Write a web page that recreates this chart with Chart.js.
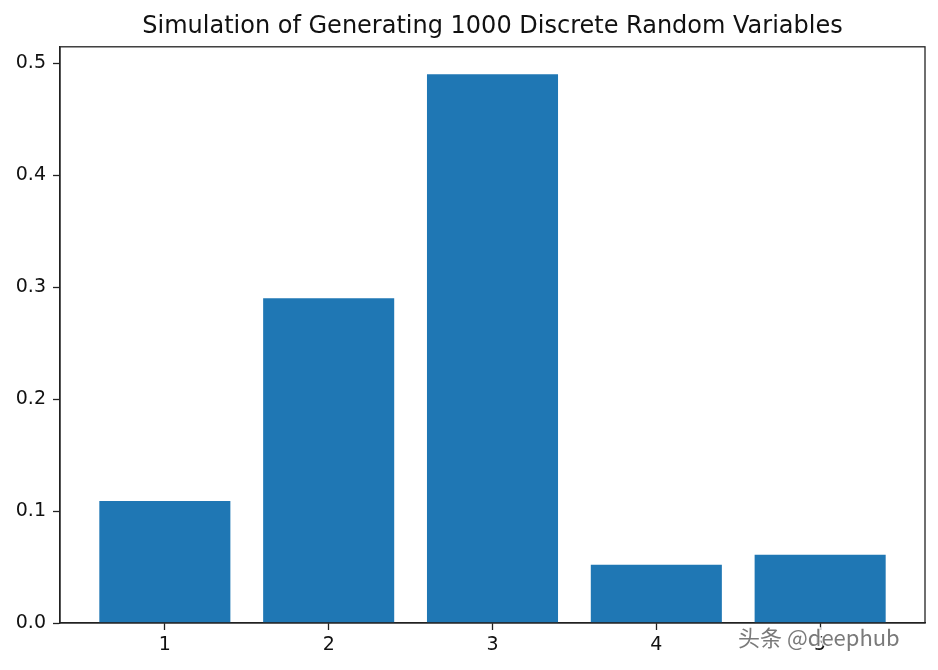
<!DOCTYPE html>
<html>
<head>
<meta charset="utf-8">
<script src="https://cdn.jsdelivr.net/npm/chart.js@4"></script>
<style>
  html, body { margin: 0; padding: 0; background: #fff; }
  #wrap { width: 938px; height: 670px; }
</style>
</head>
<body>
<div id="wrap"><canvas id="simChart" width="938" height="670"></canvas></div>
<script>
const values = [1, 2, 3, 4, 5];
const freqs = [0.109, 0.29, 0.49, 0.052, 0.061];
const yTicks = [0.0, 0.1, 0.2, 0.3, 0.4, 0.5];
const titleText = "Simulation of Generating 1000 Discrete Random Variables";
const watermark = "头条 @deephub";

const barColor = "#1f77b4";
const axisColor = "#222222";

// frame around the plot area, like matplotlib's spines
const frame = {
	id: "frame",
	afterDatasetsDraw(chart) {
		const a = chart.chartArea;
		const ctx = chart.ctx;
		ctx.save();
		ctx.strokeStyle = axisColor;
		ctx.lineWidth = 1.3;
		ctx.strokeRect(a.left, a.top, a.right - a.left, a.bottom - a.top);
		ctx.restore();
	}
};

const mark = {
	id: "mark",
	afterDraw(chart) {
		const ctx = chart.ctx;
		ctx.save();
		ctx.font = "22px 'Noto Sans CJK SC', 'Liberation Sans', sans-serif";
		ctx.textBaseline = "middle";
		ctx.lineWidth = 3;
		ctx.strokeStyle = "rgba(255,255,255,0.9)";
		ctx.strokeText(watermark, 738, 638);
		ctx.fillStyle = "#7a7a7a";
		ctx.fillText(watermark, 738, 638);
		ctx.restore();
	}
};

new Chart("simChart", {
	type: "bar",
	data: {
		datasets: [{
			data: values.map((v, i) => ({x: v, y: freqs[i]})),
			backgroundColor: barColor,
			borderWidth: 0,
			barPercentage: 0.8,
			categoryPercentage: 1.0
		}]
	},
	options: {
		responsive: false,
		animation: false,
		layout: { padding: { left: 0, right: 13, top: 0, bottom: 0 } },
		plugins: {
			legend: { display: false },
			tooltip: { enabled: false },
			title: {
				display: true,
				fullSize: false,
				text: titleText,
				color: "#111",
				font: { family: "'DejaVu Sans'", size: 24, weight: "normal" },
				padding: { top: 12, bottom: 6 }
			}
		},
		scales: {
			x: {
				type: "linear",
				offset: false,
				min: 0.36,
				max: 5.64,
				afterBuildTicks: (scale) => { scale.ticks = values.map(v => ({value: v})); },
				afterFit: (scale) => { scale.height = 47; },
				grid: { offset: false, drawOnChartArea: false, drawTicks: true, tickLength: 7, color: axisColor, tickWidth: 1.3 },
				border: { display: true, color: axisColor, width: 1.3 },
				ticks: {
					color: "#111",
					padding: 4,
					maxRotation: 0,
					font: { family: "'DejaVu Sans'", size: 19 },
					callback: (v) => String(v)
				}
			},
			y: {
				min: 0,
				max: 0.5145,
				afterBuildTicks: (scale) => { scale.ticks = yTicks.map(v => ({value: v})); },
				afterFit: (scale) => { scale.width = 60; },
				grid: { drawOnChartArea: false, drawTicks: true, tickLength: 7, color: axisColor, tickWidth: 1.3 },
				border: { display: true, color: axisColor, width: 1.3 },
				ticks: {
					color: "#111",
					padding: 7,
					font: { family: "'DejaVu Sans'", size: 19 },
					callback: (v) => Number(v).toFixed(1)
				}
			}
		}
	},
	plugins: [frame, mark]
});
</script>
</body>
</html>
